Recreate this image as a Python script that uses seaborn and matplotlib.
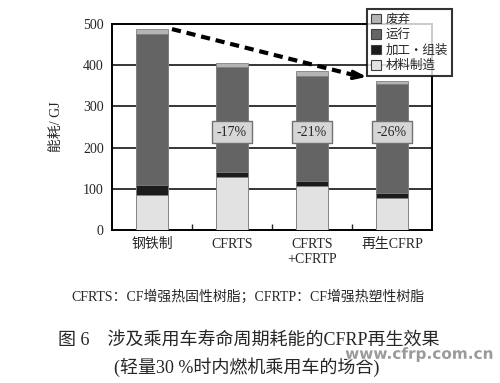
import pandas as pd
import matplotlib.pyplot as plt
import matplotlib.patheffects as pe
from matplotlib.patches import Patch
import seaborn as sns

# data (GJ)
categories = ['钢铁制', 'CFRTS', 'CFRTS\n+CFRTP', '再生CFRP']
material = [85, 128, 107, 78]      # 材料制造
processing = [24, 13, 12, 13]      # 加工・组装
operation = [368, 255, 256, 263]   # 运行
disposal = [11, 10, 11, 9]         # 废弃
reductions = ['', '-17%', '-21%', '-26%']

layer_names = ['材料制造', '加工・组装', '运行', '废弃']
layer_colors = ['#e2e2e2', '#1c1c1c', '#646464', '#b4b4b4']


def main():
    sns.set_style('ticks')
    plt.rcParams['font.family'] = ['Liberation Serif', 'Noto Sans CJK SC', 'DejaVu Sans']

    df = pd.DataFrame({'cat': categories, '材料制造': material, '加工・组装': processing,
                       '运行': operation, '废弃': disposal})
    cum = df[layer_names].cumsum(axis=1)

    fig = plt.figure(figsize=(5, 3.83), dpi=100)
    ax = fig.add_axes([0.224, 0.3995, 0.64, 0.5375])

    # stacked bars: draw cumulative totals from the top layer down
    for name, color in zip(layer_names[::-1], layer_colors[::-1]):
        sns.barplot(x=df['cat'], y=cum[name], color=color, width=0.4,
                    edgecolor='#808080', linewidth=0.6, saturation=1, ax=ax, zorder=3)

    ax.set_ylim(0, 500)
    ax.set_xlim(-0.5, 3.5)
    ax.set_yticks(range(0, 501, 100))
    # horizontal grid lines behind the bars
    for yv in range(100, 500, 100):
        ax.axhline(yv, color='black', lw=1.1, zorder=1)
    for s in ax.spines.values():
        s.set_linewidth(1.4)
        s.set_color('black')
    ax.tick_params(axis='y', length=0, labelsize=10, pad=6)
    ax.tick_params(axis='x', length=0, labelsize=10, pad=6)
    ax.set_xticks([0.5, 1.5, 2.5], minor=True)
    ax.tick_params(axis='x', which='minor', direction='in', length=4, width=1)
    ax.set_xlabel('')
    ax.set_ylabel('能耗/ GJ', fontsize=10, labelpad=14)

    # reduction labels
    for i, txt in enumerate(reductions):
        if txt:
            ax.text(i, 238, txt, ha='center', va='center', fontsize=10, zorder=5,
                    bbox=dict(boxstyle='square,pad=0.35', fc='#d6d6d6', ec='#707070', lw=1))

    # dashed trend arrow
    ax.plot([0.25, 2.55], [488, 375], color='black', lw=3, dashes=(2.2, 1.4), zorder=4,
            solid_capstyle='butt')
    ax.annotate('', xy=(2.72, 371), xytext=(2.45, 378),
                arrowprops=dict(arrowstyle='->,head_length=0.7,head_width=0.25',
                                lw=2.5, color='black'), zorder=4)

    handles = [Patch(facecolor=c, edgecolor='#404040', lw=0.8, label=n)
               for n, c in zip(layer_names[::-1], layer_colors[::-1])]
    leg = fig.legend(handles=handles, loc='upper left', bbox_to_anchor=(0.722, 0.993),
                     frameon=True, fancybox=False, handlelength=0.8,
                     handleheight=0.8, handletextpad=0.4, labelspacing=0.2,
                     borderpad=0.3, prop={'family': ['Noto Sans CJK SC'], 'size': 9})
    leg.get_frame().set_edgecolor('black')
    leg.get_frame().set_linewidth(1.5)

    fig.text(0.495, 0.225, 'CFRTS：CF增强热固性树脂；CFRTP：CF增强热塑性树脂',
             ha='center', va='center', fontsize=10)
    fig.text(0.497, 0.112, '图 6　涉及乘用车寿命周期耗能的CFRP再生效果',
             ha='center', va='center', fontsize=13)
    fig.text(0.493, 0.042, '(轻量30 %时内燃机乘用车的场合)',
             ha='center', va='center', fontsize=13)
    fig.text(0.985, 0.075, 'www.cfrp.com.cn', ha='right', va='center', fontsize=11,
             fontweight='bold', family='DejaVu Sans', color='#9a9a9a',
             path_effects=[pe.withStroke(linewidth=1.5, foreground='white')])

    fig.savefig('out.png', dpi=100)
    plt.close(fig)


if __name__ == "__main__":
    main()
